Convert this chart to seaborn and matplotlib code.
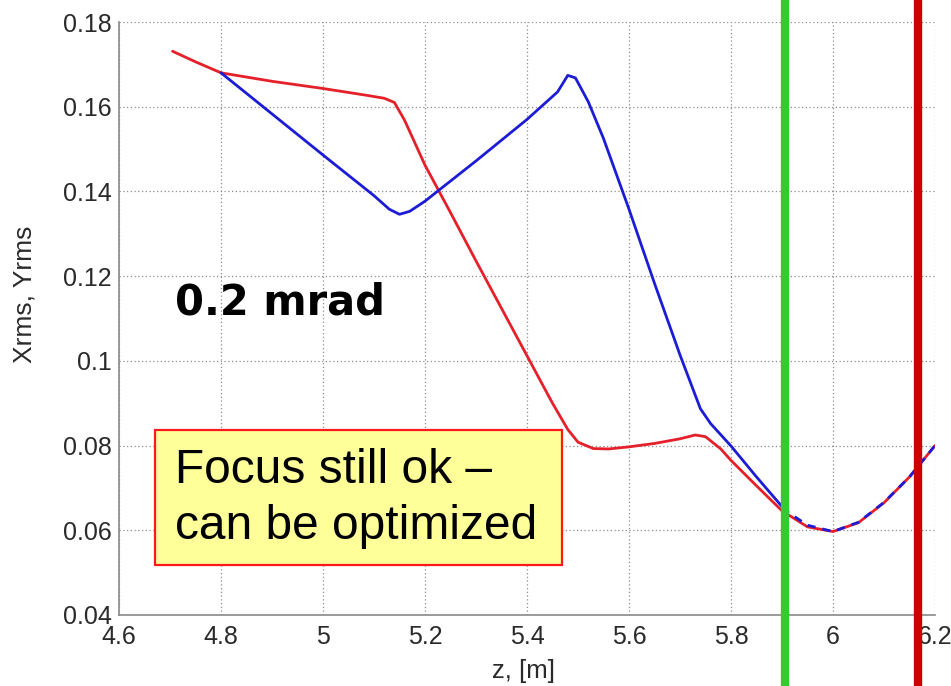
import matplotlib
matplotlib.use("Agg")
import matplotlib.pyplot as plt
import matplotlib.patches as mpatches
import seaborn as sns
import numpy as np

# ---- data ----
z_red = [4.705, 4.75, 4.80, 4.90, 5.00, 5.08, 5.12, 5.14, 5.16, 5.20, 5.25, 5.30, 5.35,
         5.40, 5.45, 5.48, 5.50, 5.53, 5.56, 5.60, 5.65, 5.70, 5.73, 5.75, 5.78, 5.80,
         5.85, 5.90, 5.95, 6.00, 6.05, 6.10, 6.15, 6.20]
rms_red = [0.1731, 0.1706, 0.1680, 0.1660, 0.1643, 0.1628, 0.1620, 0.1610, 0.1568, 0.1462,
           0.1350, 0.1236, 0.1124, 0.1012, 0.0900, 0.0838, 0.0808, 0.0793, 0.0792, 0.0797,
           0.0805, 0.0816, 0.0825, 0.0821, 0.0792, 0.0765, 0.0705, 0.0646, 0.0608, 0.0597,
           0.0618, 0.0665, 0.0726, 0.0800]

z_blue = [4.80, 4.90, 5.00, 5.10, 5.13, 5.15, 5.17, 5.20, 5.30, 5.40, 5.46, 5.48, 5.495,
          5.52, 5.55, 5.60, 5.65, 5.70, 5.74, 5.76, 5.80, 5.85, 5.90]
rms_blue = [0.1680, 0.1583, 0.1486, 0.1390, 0.1358, 0.1346, 0.1353, 0.1377, 0.1472, 0.1570,
            0.1635, 0.1674, 0.1668, 0.1612, 0.1525, 0.1358, 0.1183, 0.1014, 0.0887, 0.0852,
            0.0799, 0.0726, 0.0656]

z_tail = [5.90, 5.95, 6.00, 6.05, 6.10, 6.15, 6.20]
rms_tail = [0.0652, 0.0612, 0.0597, 0.0619, 0.0666, 0.0726, 0.0800]

z_green_marker = 5.905
z_red_marker = 6.167

x_ticks = [4.6, 4.8, 5.0, 5.2, 5.4, 5.6, 5.8, 6.0, 6.2]
x_ticklabels = ["4.6", "4.8", "5", "5.2", "5.4", "5.6", "5.8", "6", "6.2"]
y_ticks = [0.04, 0.06, 0.08, 0.10, 0.12, 0.14, 0.16, 0.18]
y_ticklabels = ["0.04", "0.06", "0.08", "0.1", "0.12", "0.14", "0.16", "0.18"]

# ---- style ----
sns.set_style("white")
plt.rcParams["font.family"] = ["Liberation Sans", "DejaVu Sans"]

fig = plt.figure(figsize=(9.51, 6.86), dpi=100)
ax = fig.add_axes([119 / 951, 1 - 615 / 686, 816 / 951, 593 / 686])

blue_c = "#1c1cd6"
red_c = "#e5202a"

sns.lineplot(x=z_red, y=rms_red, sort=False, estimator=None, color=red_c, lw=2.0, ax=ax)
sns.lineplot(x=z_blue, y=rms_blue, sort=False, estimator=None, color=blue_c, lw=2.0, ax=ax)
sns.lineplot(x=z_tail, y=rms_tail, sort=False, estimator=None, color=blue_c, lw=2.0,
             ax=ax, linestyle=(0, (3, 2.5)))

ax.set_xlim(4.6, 6.2)
ax.set_ylim(0.04, 0.18)
ax.set_xticks(x_ticks)
ax.set_xticklabels(x_ticklabels)
ax.set_yticks(y_ticks)
ax.set_yticklabels(y_ticklabels)

ax.grid(True, linestyle=(0, (1, 2)), color="#8c8c8c", linewidth=0.9)
for s in ["top", "right"]:
    ax.spines[s].set_visible(False)
for s in ["left", "bottom"]:
    ax.spines[s].set_color("#8a8a8a")
    ax.spines[s].set_linewidth(1.2)
ax.tick_params(direction="in", length=4, color="#8a8a8a", labelsize=18,
               labelcolor="#2a2a2a")
ax.tick_params(axis="x", pad=7)
ax.tick_params(axis="y", pad=5)

ax.set_xlabel("z, [m]", fontsize=18.5, color="#2a2a2a")
ax.xaxis.set_label_coords(0.496, -0.094)
ax.xaxis.label.set_va("center")
ax.set_ylabel("Xrms, Yrms", fontsize=19, color="#2a2a2a")
ax.yaxis.set_label_coords(-0.1164, 0.54)
ax.yaxis.label.set_va("center")

# vertical markers spanning beyond the axes
ax.axvline(z_green_marker, ymin=-0.13, ymax=1.05, color="#35c935", lw=6, clip_on=False, zorder=5)
ax.axvline(z_red_marker, ymin=-0.13, ymax=1.05, color="#cc0000", lw=6, clip_on=False, zorder=5)

# annotations
ax.text(4.71, 0.1137, "0.2 mrad", fontsize=30, fontweight="bold", ha="left", va="center",
        color="black", zorder=6, family=["DejaVu Sans"])

rect = mpatches.Rectangle((4.6706, 0.0517), 5.4686 - 4.6706, 0.08377 - 0.0517,
                          facecolor="#ffff99", edgecolor="#ff1a1a", lw=1.6, zorder=6)
ax.add_patch(rect)
ax.text(4.71, 0.0675, "Focus still ok –\ncan be optimized", fontsize=34.5, ha="left",
        va="center", color="black", linespacing=1.33, zorder=7)

fig.savefig("out.png", dpi=100)
